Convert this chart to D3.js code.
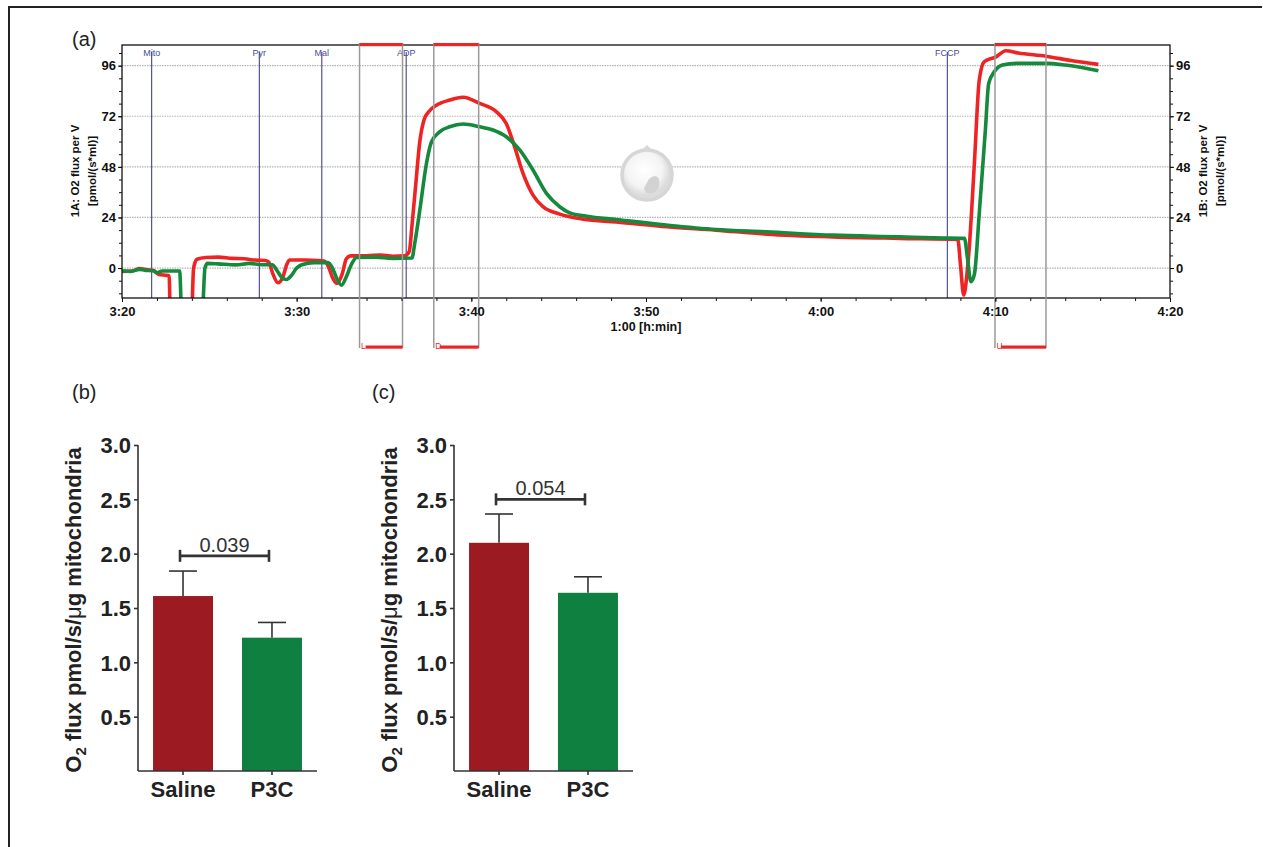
<!DOCTYPE html>
<html>
<head>
<meta charset="utf-8">
<script src="https://cdn.jsdelivr.net/npm/d3@7"></script>
<style>
  body { margin: 0; background: #fff; }
  svg { display: block; font-family: "Liberation Sans", Arial, sans-serif; }
</style>
</head>
<body>
<svg id="fig" width="1263" height="847"></svg>
<script>
// ---- panel (a): O2 flux traces, time in clock minutes (200 = 3:20) ----
var redTrace = [[200.0,-1.6],[200.6,-1.4],[201.0,-0.2],[201.3,-0.6],[201.8,-1.2],[202.1,-3.0],[202.5,-3.4],[202.7,-3.6],
  [202.78,-30],[203.95,-30],[204.1,0],[204.3,4.2],[204.8,5.0],[205.5,5.2],[206.3,4.6],[207.0,4.4],[207.6,3.8],[208.2,3.6],
  [208.4,2.8],[208.65,-3],[208.93,-7.0],[209.2,-4.5],[209.45,2.0],[209.6,3.8],[210.5,3.8],[211.2,3.6],[211.6,3.2],
  [211.85,0],[212.05,-4.5],[212.3,-7.3],[212.6,-3],[212.85,4.5],[213.1,5.8],[214.0,5.8],[214.8,6.2],[215.5,5.6],[216.2,5.8],
  [216.45,8],[216.6,20],[216.8,38],[217.05,60],[217.3,70.5],[217.6,74.5],[218.0,77.2],[218.76,79.7],[219.53,81.0],
  [220.48,78.1],[221.44,74.1],[222.0,68.6],[222.48,57.5],[222.96,44.9],[223.53,34.6],[224.1,29.1],[225.06,25.6],
  [226.4,23.2],[228.3,21.9],[231.2,19.6],[234.0,18.0],[236.9,16.1],[240.7,14.8],[244.5,14.1],[247.85,13.6],
  [248.0,2],[248.19,-12.8],[248.35,-5],[248.51,10.1],[248.8,49.6],[249.08,89.2],[249.37,97.9],[250.04,100.2],
  [250.6,103.1],[251.3,102],[252.9,100.5],[254.4,98.3],[255.9,96.6]];

var greenTrace = [[200.0,-1.3],[200.5,-1.6],[201.0,-0.6],[201.3,-1.0],[201.8,-1.3],[202.0,-2.2],[202.3,-1.4],[203.3,-1.4],
  [203.45,-30],[204.55,-30],[204.75,0],[204.9,2.2],[205.5,2.0],[206.5,1.5],[207.3,2.2],[208.0,1.6],[208.6,1.6],
  [208.9,-1.5],[209.15,-4.5],[209.42,-5.4],[209.7,-3.5],[210.0,0],[210.3,1.6],[211.0,2.6],[211.8,2.6],
  [212.05,0],[212.3,-5],[212.57,-8.1],[212.85,-4],[213.15,2],[213.43,5.0],[214.5,5.2],[215.5,4.6],[216.6,4.8],
  [216.76,11.7],[217.05,27.5],[217.43,49.6],[217.72,59.9],[218.2,64.7],[218.76,67],[219.53,68.3],[220.48,67],
  [221.24,65.5],[222.0,62.3],[222.77,56],[223.53,46.5],[224.3,35.4],[225.06,29.1],[225.63,26.2],[226.6,24.6],
  [228.3,23],[231.16,20.4],[234.0,18.3],[236.9,17.2],[240.7,15.6],[244.5,14.8],[246.5,14.3],[248.23,14.1],
  [248.4,5],[248.6,-6.5],[248.8,-3],[249.08,25.9],[249.43,65.5],[249.62,87.6],[249.94,93.1],[250.4,96.3],
  [251.2,97.1],[252.9,97.1],[254.0,96.3],[255.9,93.6]];

var events = [{name:"Mito", t:201.7}, {name:"Pyr", t:207.86}, {name:"Mal", t:211.44}, {name:"ADP", t:216.27}, {name:"FCCP", t:247.25}];
var marks = [{name:"L", t0:213.6, t1:216.06}, {name:"D", t0:217.85, t1:220.42}, {name:"U", t0:249.98, t1:252.9}];
var timeTicks = [200, 210, 220, 230, 240, 250, 260];
var fluxTicks = [0, 24, 48, 72, 96];

// ---- panels (b) and (c): bar charts ----
var groups = ["Saline", "P3C"];
var barColors = ["#9c1b22", "#0f8040"];
var meansB = [1.61, 1.227];
var semB = [0.23, 0.14];
var pB = "0.039";
var meansC = [2.10, 1.64];
var semC = [0.265, 0.147];
var pC = "0.054";
var barTicks = [0.5, 1.0, 1.5, 2.0, 2.5, 3.0];

var svg = d3.select("#fig");

// outer frame (left and top edges)
svg.append("path").attr("d", "M9,847V7H1262")
  .attr("fill", "none").attr("stroke", "#222").attr("stroke-width", 2);

function clock(t) {
  var h = Math.floor(t / 60), m = Math.round(t % 60);
  return h + ":" + (m < 10 ? "0" + m : m);
}

// ===== panel (a) =====
var L = 122, R = 1170, T = 45, B = 298;
var x = d3.scaleLinear().domain([200, 260]).range([L, R]);
var y = d3.scaleLinear().domain([-14.2, 105.8]).range([B, T]);

svg.append("text").attr("x", 72).attr("y", 46).attr("font-size", 20).attr("fill", "#222").text("(a)");

var defs = svg.append("defs");
defs.append("clipPath").attr("id", "plotclip")
  .append("rect").attr("x", L).attr("y", T).attr("width", R - L).attr("height", B - T);

// grid
svg.append("g").selectAll("line").data(fluxTicks).join("line")
  .attr("x1", L).attr("x2", R).attr("y1", function(d){ return y(d); }).attr("y2", function(d){ return y(d); })
  .attr("stroke", "#b5b5b5").attr("stroke-width", 1.2).attr("stroke-dasharray", "1.5,1");

// watermark (faint logo)
var grad = defs.append("radialGradient").attr("id", "wmg").attr("cx", "45%").attr("cy", "40%");
grad.append("stop").attr("offset", "0%").attr("stop-color", "#fff");
grad.append("stop").attr("offset", "70%").attr("stop-color", "#f4f4f4");
grad.append("stop").attr("offset", "100%").attr("stop-color", "#dcdcdc");
var wm = svg.append("g").attr("transform", "translate(647,175)");
wm.append("circle").attr("r", 25).attr("fill", "url(#wmg)").attr("stroke", "#d6d6d6").attr("stroke-width", 3.5);
wm.append("path").attr("d", "M2,4 q7,-6 10,0 q2,10 -6,14 q-8,2 -9,-5 z").attr("fill", "#d2d2d2");
wm.append("path").attr("d", "M-5,-25 l5,-5 l5,5 z").attr("fill", "#d6d6d6");

// event lines
var ev = svg.append("g");
ev.selectAll("line").data(events).join("line")
  .attr("x1", function(d){ return x(d.t); }).attr("x2", function(d){ return x(d.t); })
  .attr("y1", 52).attr("y2", B).attr("stroke", "#303080").attr("stroke-width", 1);
ev.selectAll("text").data(events).join("text")
  .attr("x", function(d){ return x(d.t); }).attr("y", 55.5).attr("text-anchor", "middle")
  .attr("font-size", 9).attr("fill", "#4b4b9b").text(function(d){ return d.name; });

// traces
var line = d3.line().x(function(d){ return x(d[0]); }).y(function(d){ return y(d[1]); }).curve(d3.curveMonotoneX);
var traces = svg.append("g").attr("clip-path", "url(#plotclip)");
traces.append("path").datum(redTrace).attr("d", line).attr("fill", "none")
  .attr("stroke", "#ee2424").attr("stroke-width", 3.6).attr("stroke-linejoin", "round");
traces.append("path").datum(greenTrace).attr("d", line).attr("fill", "none")
  .attr("stroke", "#168a3c").attr("stroke-width", 3.6).attr("stroke-linejoin", "round");

// mark boxes
var mk = svg.append("g");
mk.selectAll("line.l").data(marks).join("line").attr("class", "l")
  .attr("x1", function(d){ return x(d.t0); }).attr("x2", function(d){ return x(d.t0); })
  .attr("y1", 43).attr("y2", 348).attr("stroke", "#9a9a9a").attr("stroke-width", 1.5);
mk.selectAll("line.r").data(marks).join("line").attr("class", "r")
  .attr("x1", function(d){ return x(d.t1); }).attr("x2", function(d){ return x(d.t1); })
  .attr("y1", 43).attr("y2", 348).attr("stroke", "#9a9a9a").attr("stroke-width", 1.5);

// frame
svg.append("rect").attr("x", L).attr("y", T).attr("width", R - L).attr("height", B - T)
  .attr("fill", "none").attr("stroke", "#111").attr("stroke-width", 1.3);

mk.raise();
mk.selectAll("rect.top").data(marks).join("rect").attr("class", "top")
  .attr("x", function(d){ return x(d.t0); }).attr("width", function(d){ return x(d.t1) - x(d.t0); })
  .attr("y", 43).attr("height", 3.2).attr("fill", "#ee2424");
mk.selectAll("rect.bot").data(marks).join("rect").attr("class", "bot")
  .attr("x", function(d){ return x(d.t0) + 6; }).attr("width", function(d){ return x(d.t1) - x(d.t0) - 6; })
  .attr("y", 345.5).attr("height", 3.2).attr("fill", "#ee2424");
mk.selectAll("text").data(marks).join("text")
  .attr("x", function(d){ return x(d.t0) + 1.5; }).attr("y", 349).attr("font-size", 8.5)
  .attr("fill", "#ee2424").text(function(d){ return d.name; });

// axes
function styleAxis(g) {
  g.select(".domain").remove();
  g.selectAll("line").attr("stroke", "#111");
  g.selectAll("text").attr("font-weight", "bold").attr("font-size", 13).attr("fill", "#111")
    .attr("font-family", "'Liberation Sans', Arial, sans-serif");
}
var minorFlux = d3.range(-12, 106, 6);
var minorTime = d3.range(200, 261, 2);

svg.append("g").attr("transform", "translate(0," + B + ")")
  .call(d3.axisBottom(x).tickValues(minorTime).tickSize(3).tickFormat("")).call(styleAxis);
svg.append("g").attr("transform", "translate(0," + B + ")")
  .call(d3.axisBottom(x).tickValues(timeTicks).tickSize(4).tickPadding(5).tickFormat(clock)).call(styleAxis);
svg.append("g").attr("transform", "translate(" + L + ",0)")
  .call(d3.axisLeft(y).tickValues(minorFlux).tickSize(3).tickFormat("")).call(styleAxis);
svg.append("g").attr("transform", "translate(" + L + ",0)")
  .call(d3.axisLeft(y).tickValues(fluxTicks).tickSize(4).tickPadding(2)).call(styleAxis);
svg.append("g").attr("transform", "translate(" + R + ",0)")
  .call(d3.axisRight(y).tickValues(minorFlux).tickSize(3).tickFormat("")).call(styleAxis);
svg.append("g").attr("transform", "translate(" + R + ",0)")
  .call(d3.axisRight(y).tickValues(fluxTicks).tickSize(4).tickPadding(2)).call(styleAxis);

svg.append("text").attr("x", x(230)).attr("y", 331).attr("text-anchor", "middle")
  .attr("font-weight", "bold").attr("font-size", 12.5).attr("fill", "#111").text("1:00 [h:min]");

function yTitle(cx, cy, lines) {
  var t = svg.append("text").attr("transform", "translate(" + cx + "," + cy + ") rotate(-90)")
    .attr("text-anchor", "middle").attr("font-weight", "bold").attr("font-size", 11.5).attr("fill", "#111");
  lines.forEach(function(s, i) {
    t.append("tspan").attr("x", 0).attr("y", i * 17).attr("dy", "0.35em").text(s);
  });
}
yTitle(75, 171, ["1A: O2 flux per V", "[pmol/(s*ml)]"]);
yTitle(1203, 171, ["1B: O2 flux per V", "[pmol/(s*ml)]"]);

// ===== panels (b), (c) =====
function barPanel(left, label, labelX, means, sem, pval, bracketY) {
  var top = 445, bottom = 771, width = 179;
  var bx = d3.scaleBand().domain(groups).range([left, left + width]).paddingInner(0.326).paddingOuter(0.169);
  var by = d3.scaleLinear().domain([0, 3]).range([bottom, top]);
  var g = svg.append("g");

  g.append("text").attr("x", labelX).attr("y", 399).attr("font-size", 20).attr("fill", "#222").text(label);

  g.selectAll("rect").data(groups).join("rect")
    .attr("x", function(d){ return bx(d); }).attr("width", bx.bandwidth())
    .attr("y", function(d, i){ return by(means[i]); })
    .attr("height", function(d, i){ return by(0) - by(means[i]); })
    .attr("fill", function(d, i){ return barColors[i]; });

  var eb = g.append("g").attr("stroke", "#333").attr("stroke-width", 1.6);
  groups.forEach(function(d, i) {
    var cx = bx(d) + bx.bandwidth() / 2;
    eb.append("line").attr("x1", cx).attr("x2", cx).attr("y1", by(means[i])).attr("y2", by(means[i] + sem[i]));
    eb.append("line").attr("x1", cx - 14).attr("x2", cx + 14).attr("y1", by(means[i] + sem[i])).attr("y2", by(means[i] + sem[i]));
  });

  var yAx = g.append("g").attr("transform", "translate(" + left + ",0)")
    .call(d3.axisLeft(by).tickValues(barTicks).tickSize(4).tickPadding(3).tickFormat(d3.format(".1f")));
  yAx.select(".domain").attr("d", "M0," + top + "V" + bottom);
  var xAx = g.append("g").attr("transform", "translate(0," + bottom + ")")
    .call(d3.axisBottom(bx).tickSize(4).tickPadding(6));
  xAx.select(".domain").attr("d", "M" + left + ",0H" + (left + width));
  [yAx, xAx].forEach(function(a) {
    a.select(".domain").attr("stroke", "#333").attr("stroke-width", 1.6);
    a.selectAll("line").attr("stroke", "#333").attr("stroke-width", 1.6);
    a.selectAll("text").attr("font-size", 22).attr("font-weight", "bold").attr("fill", "#222")
      .attr("font-family", "'Liberation Sans', Arial, sans-serif");
  });
  yAx.selectAll("text").attr("dy", "0.36em");

  // significance bracket
  var c0 = bx(groups[0]) + bx.bandwidth() / 2 - 3, c1 = bx(groups[1]) + bx.bandwidth() / 2 - 3;
  var sb = g.append("g").attr("stroke", "#333").attr("stroke-width", 2.6);
  sb.append("line").attr("x1", c0).attr("x2", c1).attr("y1", by(bracketY)).attr("y2", by(bracketY));
  sb.append("line").attr("x1", c0).attr("x2", c0).attr("y1", by(bracketY) - 6).attr("y2", by(bracketY) + 6);
  sb.append("line").attr("x1", c1).attr("x2", c1).attr("y1", by(bracketY) - 6).attr("y2", by(bracketY) + 6);
  g.append("text").attr("x", (c0 + c1) / 2).attr("y", by(bracketY) - 4).attr("text-anchor", "middle")
    .attr("font-size", 20).attr("fill", "#333").text(pval);

  // y title with subscript
  var yt = g.append("text").attr("transform", "translate(" + (left - 57) + "," + ((top + bottom) / 2 + 2) + ") rotate(-90)")
    .attr("text-anchor", "middle").attr("font-size", 22).attr("font-weight", "bold").attr("fill", "#222");
  yt.append("tspan").text("O");
  yt.append("tspan").attr("font-size", 15).attr("dy", 5).text("2");
  yt.append("tspan").attr("dy", -5).text(" flux pmol/s/");
  yt.append("tspan").attr("font-weight", "normal").text("\u03bc");
  yt.append("tspan").text("g mitochondria");
}

barPanel(138, "(b)", 72, meansB, semB, pB, 1.98);
barPanel(454, "(c)", 372, meansC, semC, pC, 2.5);
</script>
</body>
</html>
